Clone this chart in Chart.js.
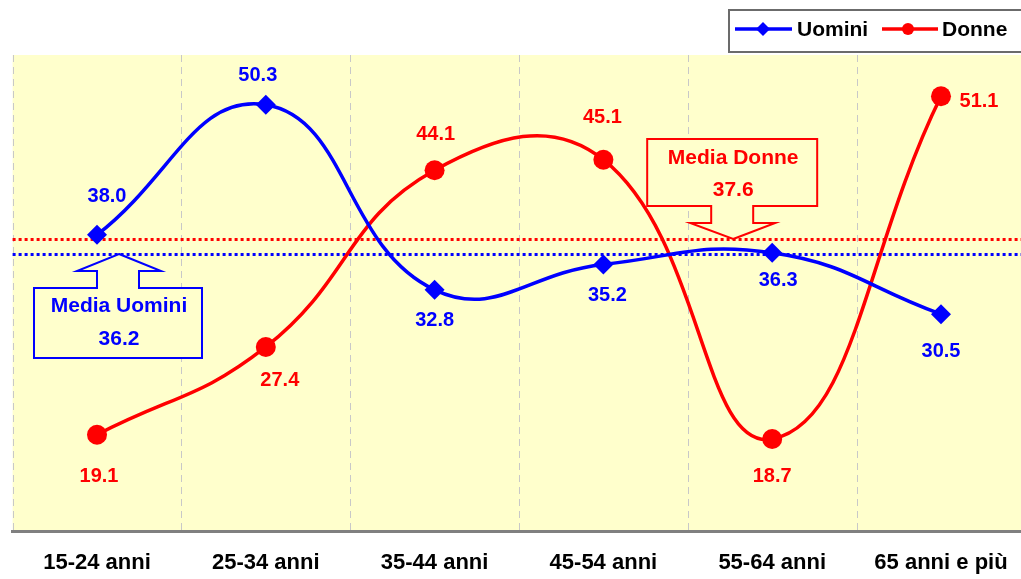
<!DOCTYPE html>
<html>
<head>
<meta charset="utf-8">
<script src="https://cdn.jsdelivr.net/npm/chart.js@4"></script>
<style>
  html, body { margin: 0; padding: 0; background: #fff; overflow: hidden; }
  #chart { display: block; }
</style>
</head>
<body>
<canvas id="chart" width="1021" height="579"></canvas>
<script>
const categories = ['15-24 anni', '25-34 anni', '35-44 anni', '45-54 anni', '55-64 anni', '65 anni e più'];
const uomini = [38.0, 50.3, 32.8, 35.2, 36.3, 30.5];
const donne = [19.1, 27.4, 44.1, 45.1, 18.7, 51.1];
const mediaUomini = 36.2;
const mediaDonne = 37.6;

const BLUE = '#0000FF';
const RED = '#FF0000';
const FONT = '"Liberation Sans", Arial, sans-serif';

// label offsets from each point, in px
const offUomini = [[10,-38],[-8,-29],[0,31],[4,31],[6,28],[0,37]];
const offDonne = [[2,42],[14,34],[1,-36],[-1,-42],[0,38],[38,5]];

const toXY = arr => arr.map((v,i)=>({x:i, y:v}));

function poly(ctx, pts){
  ctx.beginPath();
  pts.forEach((p,i)=> i ? ctx.lineTo(p[0],p[1]) : ctx.moveTo(p[0],p[1]));
  ctx.closePath();
}

const decor = {
  id: 'decor',
  beforeDraw(chart){
    const {ctx, chartArea:a} = chart;
    ctx.save();
    ctx.fillStyle = '#FFFFCC';
    ctx.fillRect(a.left, a.top, a.right-a.left, a.bottom-a.top);
    ctx.restore();
  },
  beforeDatasetsDraw(chart){
    const {ctx, chartArea:a, scales:{x,y}} = chart;
    ctx.save();
    // category separators
    ctx.strokeStyle = '#C8C8C8';
    ctx.lineWidth = 1;
    ctx.setLineDash([7,5]);
    for(let i=0;i<=categories.length;i++){
      const px = Math.round(x.getPixelForValue(i-0.5)) + 0.5;
      if(px > a.right) continue;
      ctx.beginPath(); ctx.moveTo(px, a.top); ctx.lineTo(px, a.bottom); ctx.stroke();
    }
    // mean lines
    ctx.lineWidth = 3;
    ctx.setLineDash([3,3]);
    [[mediaDonne, RED],[mediaUomini, BLUE]].forEach(([v,c])=>{
      const py = Math.round(y.getPixelForValue(v)) + 0.5;
      ctx.strokeStyle = c;
      ctx.beginPath(); ctx.moveTo(a.left, py); ctx.lineTo(a.right, py); ctx.stroke();
    });
    ctx.restore();
  },
  afterDatasetsDraw(chart){
    const {ctx, scales:{x,y}} = chart;
    ctx.save();
    ctx.font = 'bold 20px ' + FONT;
    ctx.textAlign = 'center';
    ctx.textBaseline = 'middle';
    [[0, uomini, offUomini, BLUE],[1, donne, offDonne, RED]].forEach(([di, vals, off, col])=>{
      const meta = chart.getDatasetMeta(di);
      ctx.fillStyle = col;
      meta.data.forEach((pt,i)=>{
        ctx.fillText(vals[i].toFixed(1), pt.x + off[i][0], pt.y + off[i][1]);
      });
    });

    // callout Media Uomini (arrow up)
    let tx = x.getPixelForValue(0) + 22, ty = Math.round(y.getPixelForValue(mediaUomini));
    ctx.lineWidth = 2;
    ctx.strokeStyle = BLUE; ctx.fillStyle = '#FFFFCC';
    poly(ctx, [[tx,ty],[tx+42,ty+17],[tx+20,ty+17],[tx+20,ty+34],[tx+83,ty+34],[tx+83,ty+104],
               [tx-85,ty+104],[tx-85,ty+34],[tx-22,ty+34],[tx-22,ty+17],[tx-42,ty+17]]);
    ctx.fill(); ctx.stroke();
    ctx.fillStyle = BLUE;
    ctx.font = 'bold 21px ' + FONT;
    ctx.fillText('Media Uomini', tx, ty+52);
    ctx.fillText(mediaUomini.toFixed(1), tx, ty+85);

    // callout Media Donne (arrow down)
    tx = x.getPixelForValue(4) - 39; ty = Math.round(y.getPixelForValue(mediaDonne));
    ctx.strokeStyle = RED; ctx.fillStyle = '#FFFFCC';
    poly(ctx, [[tx,ty],[tx+42,ty-16],[tx+20,ty-16],[tx+20,ty-33],[tx+84,ty-33],[tx+84,ty-100],
               [tx-86,ty-100],[tx-86,ty-33],[tx-22,ty-33],[tx-22,ty-16],[tx-43,ty-16]]);
    ctx.fill(); ctx.stroke();
    ctx.fillStyle = RED;
    ctx.fillText('Media Donne', tx, ty-81);
    ctx.fillText(mediaDonne.toFixed(1), tx, ty-49);
    ctx.restore();
  },
  afterDraw(chart){
    const ctx = chart.ctx;
    ctx.save();
    // legend box (runs past the right edge, as in the original crop)
    ctx.fillStyle = '#fff';
    ctx.strokeStyle = '#6b6b6b';
    ctx.lineWidth = 2;
    ctx.fillRect(729, 10, 320, 42);
    ctx.strokeRect(729, 10, 320, 42);
    ctx.lineWidth = 3.5;
    ctx.strokeStyle = BLUE; ctx.fillStyle = BLUE;
    ctx.beginPath(); ctx.moveTo(735, 29); ctx.lineTo(792, 29); ctx.stroke();
    poly(ctx, [[763,22],[770,29],[763,36],[756,29]]); ctx.fill();
    ctx.strokeStyle = RED; ctx.fillStyle = RED;
    ctx.beginPath(); ctx.moveTo(882, 29); ctx.lineTo(938, 29); ctx.stroke();
    ctx.beginPath(); ctx.arc(908, 29, 6, 0, Math.PI*2); ctx.fill();
    ctx.fillStyle = '#000';
    ctx.font = 'bold 21px ' + FONT;
    ctx.textBaseline = 'middle';
    ctx.textAlign = 'left';
    ctx.fillText(chart.data.datasets[0].label, 797, 30);
    ctx.fillText(chart.data.datasets[1].label, 942, 30);
    ctx.restore();
  }
};

new Chart(document.getElementById('chart'), {
  type: 'line',
  data: {
    datasets: [
      { label: 'Uomini', data: toXY(uomini), borderColor: BLUE, backgroundColor: BLUE,
        borderWidth: 3.5, tension: 0.45, pointStyle: 'rectRot', pointRadius: 10,
        pointBorderWidth: 0, fill: false },
      { label: 'Donne', data: toXY(donne), borderColor: RED, backgroundColor: RED,
        borderWidth: 3.5, tension: 0.45, pointStyle: 'circle', pointRadius: 10,
        pointBorderWidth: 0, fill: false }
    ]
  },
  options: {
    responsive: false,
    maintainAspectRatio: false,
    animation: false,
    layout: { autoPadding: false, padding: { left: 12.6, right: 0, top: 55, bottom: 0 } },
    plugins: { legend: { display: false }, tooltip: { enabled: false } },
    scales: {
      x: {
        type: 'linear',
        min: -0.5,
        max: 5.474,
        grid: { display: false, drawTicks: false },
        border: { display: true, color: '#808080', width: 3 },
        ticks: {
          color: '#000', font: { family: FONT, size: 22, weight: 'bold' }, padding: 19,
          maxRotation: 0, autoSkip: false, callback: v => categories[v]
        },
        afterBuildTicks(scale){ scale.ticks = categories.map((_,i)=>({value:i})); },
        afterFit(scale){ scale.height = 48; scale.paddingLeft = 0; scale.paddingRight = 0; }
      },
      y: {
        display: false,
        min: 10,
        max: 55
      }
    }
  },
  plugins: [decor]
});
</script>
</body>
</html>
